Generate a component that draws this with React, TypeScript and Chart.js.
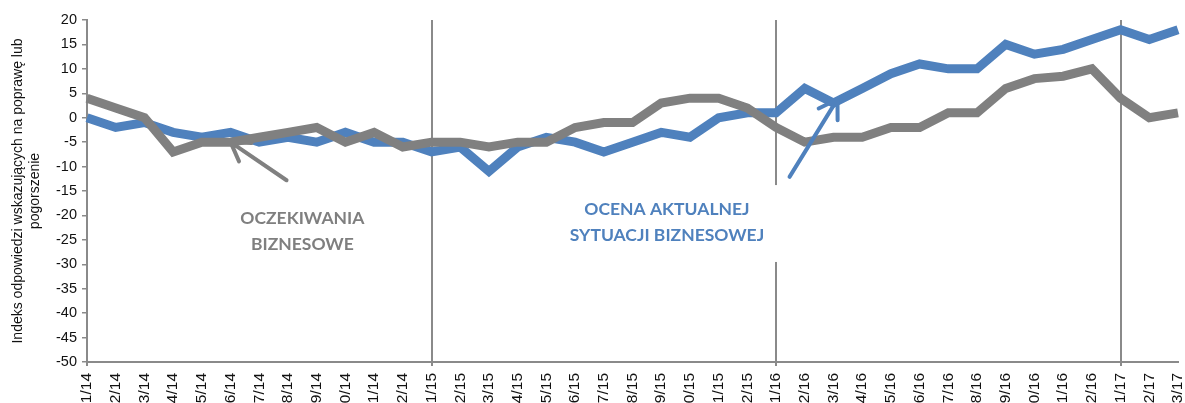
import { useEffect, useRef } from "react";
import { Chart, registerables } from "chart.js";

Chart.register(...registerables);

const categories = [
  "1/14", "2/14", "3/14", "4/14", "5/14", "6/14", "7/14", "8/14", "9/14", "10/14", "11/14", "12/14",
  "1/15", "2/15", "3/15", "4/15", "5/15", "6/15", "7/15", "8/15", "9/15", "10/15", "11/15", "12/15",
  "1/16", "2/16", "3/16", "4/16", "5/16", "6/16", "7/16", "8/16", "9/16", "10/16", "11/16", "12/16",
  "1/17", "2/17", "3/17",
];

// Ocena aktualnej sytuacji biznesowej (blue)
const currentSituation = [
  0, -2, -1, -3, -4, -3, -5, -4, -5, -3, -5, -5,
  -7, -6, -11, -6, -4, -5, -7, -5, -3, -4, 0, 1,
  1, 6, 3, 6, 9, 11, 10, 10, 15, 13, 14, 16,
  18, 16, 18,
];

// Oczekiwania biznesowe (grey)
const businessExpectations = [
  4, 2, 0, -7, -5, -5, -4, -3, -2, -5, -3, -6,
  -5, -5, -6, -5, -5, -2, -1, -1, 3, 4, 4, 2,
  -2, -5, -4, -4, -2, -2, 1, 1, 6, 8, 8.5, 10,
  4, 0, 1,
];

const yMin = -50;
const yMax = 20;
const yStep = 5;
const periodStartIndices = [0, 12, 24, 36];

const yTitleLines = ["Indeks odpowiedzi wskazujących na poprawę lub", "pogorszenie"];

const GREY = "#808080";
const BLUE = "#4f81bd";
const AXIS = "#8a8a8a";

// annotations in data coordinates (category index, value)
const textNotes = [
  { lines: ["OCZEKIWANIA", "BIZNESOWE"], x: 7.5, ys: [-20.7, -25.9], color: "#7f7f7f", box: false },
  { lines: ["OCENA AKTUALNEJ", "SYTUACJI BIZNESOWEJ"], x: 20.2, ys: [-18.8, -24.1], color: BLUE, box: true },
];
const arrowNotes = [
  { from: [6.95, -12.8], to: [5.0, -5.0], color: GREY },
  { from: [24.47, -12.1], to: [26.14, 3.8], color: BLUE },
];

const annotationPlugin = {
  id: "notes",
  afterDraw(chart: any) {
    const ctx = chart.ctx as CanvasRenderingContext2D;
    const xs = chart.scales.x;
    const ys = chart.scales.y;
    const px = (i: number) => {
      const a = xs.getPixelForValue(Math.floor(i));
      const b = xs.getPixelForValue(Math.floor(i) + 1);
      return a + (b - a) * (i - Math.floor(i));
    };
    const py = (v: number) => ys.getPixelForValue(v);
    ctx.save();
    ctx.font = "bold 17.5px Lato, 'Liberation Sans', sans-serif";
    ctx.textAlign = "center";
    ctx.textBaseline = "middle";
    for (const n of textNotes) {
      const cx = px(n.x);
      if (n.box) {
        const w = Math.max(...n.lines.map((l) => ctx.measureText(l).width));
        const top = py(n.ys[0]) - 24.5;
        const bottom = py(n.ys[n.ys.length - 1]) + 26.5;
        ctx.fillStyle = "#ffffff";
        ctx.fillRect(cx - w / 2 - 14, top, w + 28, bottom - top);
      }
      ctx.fillStyle = n.color;
      n.lines.forEach((l, k) => ctx.fillText(l, cx, py(n.ys[k])));
    }
    ctx.lineWidth = 4;
    ctx.lineCap = "round";
    for (const a of arrowNotes) {
      const x0 = px(a.from[0]);
      const y0 = py(a.from[1]);
      const x1 = px(a.to[0]);
      const y1 = py(a.to[1]);
      const ang = Math.atan2(y0 - y1, x0 - x1);
      const hl = 21;
      const spread = (32 * Math.PI) / 180;
      ctx.strokeStyle = a.color;
      ctx.beginPath();
      ctx.moveTo(x0, y0);
      ctx.lineTo(x1, y1);
      ctx.moveTo(x1 + hl * Math.cos(ang + spread), y1 + hl * Math.sin(ang + spread));
      ctx.lineTo(x1, y1);
      ctx.lineTo(x1 + hl * Math.cos(ang - spread), y1 + hl * Math.sin(ang - spread));
      ctx.stroke();
    }
    ctx.restore();
  },
};

export default function App() {
  const ref = useRef<HTMLCanvasElement | null>(null);
  useEffect(() => {
    if (!ref.current) return;
    Chart.defaults.font.family = "'Liberation Sans', Arial, sans-serif";
    const chart = new Chart(ref.current, {
      type: "line",
      data: {
        labels: categories,
        datasets: [
          {
            label: "Oczekiwania biznesowe",
            data: businessExpectations,
            borderColor: GREY,
            backgroundColor: GREY,
            borderWidth: 9,
            pointRadius: 0,
            tension: 0,
          },
          {
            label: "Ocena aktualnej sytuacji biznesowej",
            data: currentSituation,
            borderColor: BLUE,
            backgroundColor: BLUE,
            borderWidth: 9,
            pointRadius: 0,
            tension: 0,
          },
        ],
      },
      options: {
        animation: false,
        responsive: false,
        maintainAspectRatio: false,
        layout: { padding: { top: 20, right: 7, bottom: 0, left: 0 } },
        plugins: { legend: { display: false }, tooltip: { enabled: false } },
        scales: {
          x: {
            offset: false,
            border: { display: true, color: AXIS, width: 2 },
            grid: {
              drawOnChartArea: true,
              drawTicks: true,
              tickLength: 4,
              lineWidth: 2,
              color: (c: any) => (periodStartIndices.includes(c.index) ? AXIS : "rgba(0,0,0,0)"),
            },
            ticks: {
              autoSkip: false,
              minRotation: 90,
              maxRotation: 90,
              padding: 7,
              color: "#111",
              font: { size: 15.5 },
            },
            afterFit: (s: any) => {
              s.height = 41;
              s.paddingLeft = 0;
              s.paddingRight = 0;
            },
          },
          y: {
            min: yMin,
            max: yMax,
            border: { display: true, color: AXIS, width: 2 },
            grid: { drawOnChartArea: false, drawTicks: true, tickLength: 5, color: AXIS, lineWidth: 1.5 },
            ticks: { stepSize: yStep, padding: 5, color: "#111", font: { size: 14.5 } },
            title: {
              display: true,
              text: yTitleLines,
              color: "#111",
              font: { size: 14, lineHeight: 1.2 },
              padding: { top: 9.6, bottom: 0 },
            },
            afterFit: (s: any) => {
              s.width = 87;
            },
          },
        },
      },
      plugins: [annotationPlugin],
    });
    return () => chart.destroy();
  }, []);
  return (
    <div style={{ position: "absolute", left: 0, top: 0, width: 1185, height: 403, overflow: "hidden", background: "#fff" }}>
      <canvas ref={ref} width={1185} height={403} style={{ width: 1185, height: 403, display: "block" }} />
    </div>
  );
}
